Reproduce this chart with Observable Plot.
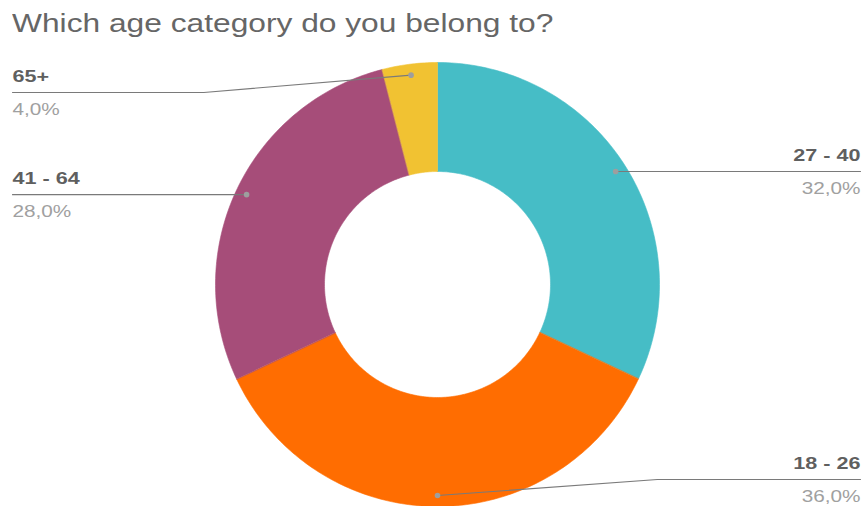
<!DOCTYPE html>
<html>
<head>
<meta charset="utf-8">
<script src="https://cdn.jsdelivr.net/npm/d3@7"></script>
<script src="https://cdn.jsdelivr.net/npm/@observablehq/plot@0.6"></script>
<style>
  html, body { margin: 0; padding: 0; background: #fff; }
  #title { height: 40px; padding: 10px 0 0 12px; font: 26px "Liberation Sans", Arial, sans-serif; line-height: 26px; color: #666; white-space: nowrap; }
  #title span { display: inline-block; transform: scaleX(1.22); transform-origin: 0 0; }
  #chart svg { display: block; }
</style>
</head>
<body>
<div id="title"><span>Which age category do you belong to?</span></div>
<div id="chart"></div>
<script>
// Data
const categories = ["27 - 40", "18 - 26", "41 - 64", "65+"];
const values = [32, 36, 28, 4];
const percentLabels = ["32,0%", "36,0%", "28,0%", "4,0%"];
const colors = ["#46bdc6", "#ff6d01", "#a64d79", "#f1c232"];

// Layout (pixels)
const W = 862, H = 456, TOP = 50;
const CX = 437, CY = 284 - TOP, R = 222;
const innerFrac = 113 / 222, dotFrac = 211 / 222;
const leftEdge = 12, rightEdge = 860, minLineY = 92 - TOP, maxLineY = 479 - TOP;

const ux = px => (px - CX) / R;
const uy = py => (CY - py) / R;

const arcs = d3.pie().sort(null).value(d => d)(values);

// Slice polygons
const poly = [];
arcs.forEach((a, i) => {
  const n = Math.max(8, Math.ceil((a.endAngle - a.startAngle) / (Math.PI * 2) * 400));
  for (let k = 0; k <= n; k++) {
    const t = a.startAngle + (a.endAngle - a.startAngle) * k / n;
    poly.push({i, x: Math.sin(t), y: Math.cos(t)});
  }
  for (let k = n; k >= 0; k--) {
    const t = a.startAngle + (a.endAngle - a.startAngle) * k / n;
    poly.push({i, x: innerFrac * Math.sin(t), y: innerFrac * Math.cos(t)});
  }
});

// Labels and leaders
const dots = [], leaders = [], labels = [];
arcs.forEach((a, i) => {
  const m = (a.startAngle + a.endAngle) / 2;
  const dx = CX + R * dotFrac * Math.sin(m);
  const dy = CY - R * dotFrac * Math.cos(m);
  const right = m <= Math.PI + 1e-6;
  const endX = right ? rightEdge : leftEdge;
  const lineY = Math.min(maxLineY, Math.max(minLineY, dy));
  dots.push({x: ux(dx), y: uy(dy)});
  leaders.push({i, x: ux(dx), y: uy(dy)});
  if (Math.abs(lineY - dy) > 1) {
    const bx = dx + (endX - dx) * 0.52;
    leaders.push({i, x: ux(bx), y: uy(lineY)});
  }
  leaders.push({i, x: ux(endX), y: uy(lineY)});
  labels.push({right, x: ux(endX), yName: uy(lineY - 16), yPct: uy(lineY + 17), name: categories[i], pct: percentLabels[i]});
});

const font = "Liberation Sans, Arial, sans-serif";
const chart = Plot.plot({
  width: W, height: H, margin: 0,
  x: {domain: [ux(0), ux(W)], axis: null},
  y: {domain: [uy(H), uy(0)], axis: null},
  color: {type: "identity"},
  style: {fontFamily: font, background: "#fff"},
  marks: [
    Plot.line(poly, {x: "x", y: "y", z: "i", fill: d => colors[d.i], stroke: d => colors[d.i], strokeWidth: 0.6, curve: "linear-closed"}),
    Plot.line(leaders, {x: "x", y: "y", z: "i", stroke: "#7a7a7a", strokeWidth: 1.1}),
    Plot.dot(dots, {x: "x", y: "y", r: 2.8, fill: "#9e9e9e", stroke: null}),
    Plot.text(labels.filter(d => d.right), {x: "x", y: "yName", text: "name", textAnchor: "end", fontSize: 17, fontWeight: "bold", fill: "#5f5f5f", className: "nm"}),
    Plot.text(labels.filter(d => !d.right), {x: "x", y: "yName", text: "name", textAnchor: "start", fontSize: 17, fontWeight: "bold", fill: "#5f5f5f", className: "nm"}),
    Plot.text(labels.filter(d => d.right), {x: "x", y: "yPct", text: "pct", textAnchor: "end", fontSize: 17, fill: "#a0a0a0", className: "pc"}),
    Plot.text(labels.filter(d => !d.right), {x: "x", y: "yPct", text: "pct", textAnchor: "start", fontSize: 17, fill: "#a0a0a0", className: "pc"})
  ]
});
document.getElementById("chart").appendChild(chart);
// Widen glyphs horizontally to match the reference's wide rendering
chart.querySelectorAll("g.nm text, g.pc text").forEach(t => {
  const f = t.closest("g.nm") ? 1.27 : 1.22;
  const L = t.getComputedTextLength();
  t.setAttribute("textLength", (L * f).toFixed(1));
  t.setAttribute("lengthAdjust", "spacingAndGlyphs");
});
</script>
</body>
</html>
